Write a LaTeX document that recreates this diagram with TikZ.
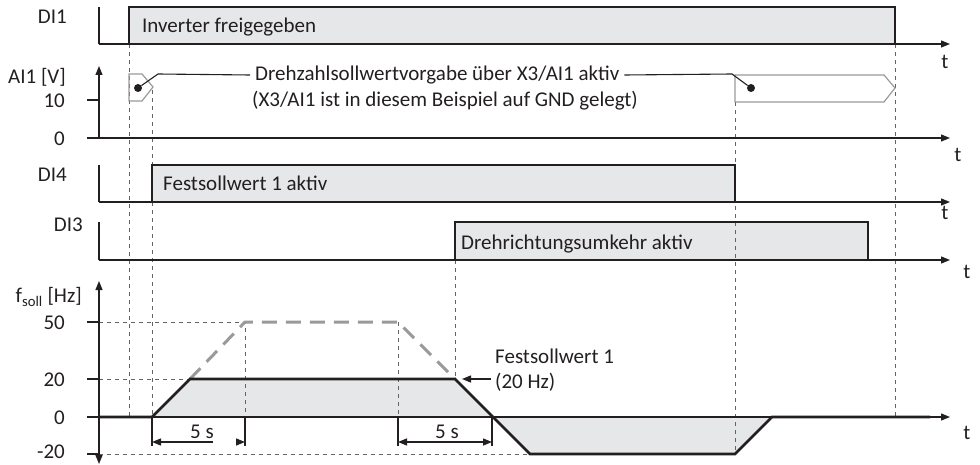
\documentclass[tikz,border=0pt]{standalone}
\usepackage{fontspec}
\setmainfont{Carlito}
\usetikzlibrary{arrows.meta,positioning}
\definecolor{ink}{HTML}{231F20}
\definecolor{boxgray}{HTML}{E6E7E8}
\definecolor{framegray}{HTML}{9A9A9A}

\begin{document}
\begin{tikzpicture}[
            x=1pt, y=-1pt,
            >={Triangle[length=9pt,width=7pt]},
            font=\fontsize{21}{25}\selectfont,
            every node/.style={text=ink},
            axis/.style={draw=ink, line width=1.2pt, ->},
            thinline/.style={draw=ink, line width=1.2pt},
            signal/.style={draw=ink, line width=2.8pt, line join=miter},
            guide/.style={draw=ink!70, line width=0.9pt, dash pattern=on 4pt off 4pt},
            ramp/.style={draw=framegray, line width=3pt, dash pattern=on 15pt off 9pt},
            frame/.style={draw=framegray, line width=1.2pt},
            leader/.style={draw=ink, line width=1.1pt},
            dot/.style={circle, fill=ink, inner sep=0pt, minimum size=8pt},
            lvl/.style={anchor=east, inner sep=0pt},
            dimline/.style={draw=ink, line width=1.4pt}
        ]
        \useasboundingbox (0,0) rectangle (980,465);

        % grey areas
        \fill[boxgray] (129,7) rectangle (895,44);
        \fill[boxgray] (152,165) rectangle (735,202);
        \fill[boxgray] (455,222) rectangle (868,260);
        \fill[boxgray] (152,417) -- (190,379) -- (455,379) -- (492,417) -- cycle;
        \fill[boxgray] (492,417) -- (530,454) -- (735,454) -- (772,417) -- cycle;

        % dashed guides
        \draw[guide] (129,44) -- (129,417);
        \draw[guide] (152,90) -- (152,417);
        \draw[guide] (455,260) -- (455,379);
        \draw[guide] (735,102) -- (735,454);
        \draw[guide] (895,44) -- (895,417);
        \draw[guide] (99,322) -- (245,322) -- (245,417);
        \draw[guide] (398,322) -- (398,417);
        \draw[guide] (99,379) -- (190,379);
        \draw[guide] (99,454) -- (530,454);

        % DI1
        \node[lvl] (lDI1) at (67,17) {DI1};
        \draw[thinline] (99,7) -- (99,44);
        \draw[axis] (99,44) -- (950,44);
        \draw[signal] (99,44) -- (129,44) -- (129,7) -- (895,7) -- (895,44) -- (930,44);
        \node[anchor=west, inner sep=0pt] (inv) at (142,27) {Inverter freigegeben};
        \node (tDI1) at (945,62) {t};

        % AI1
        \node[lvl] (lAI1) at (66,77) {AI1 [V]};
        \node[lvl] (l10) at (65,101) {10};
        \node[lvl] (l0a) at (65,139) {0};
        \draw[axis] (99,138) -- (99,66);
        \draw[thinline] (87,100) -- (99,100);
        \draw[axis] (87,138) -- (950,138);
        \draw[signal] (87,138) -- (930,138);
        \node (tAI1) at (958,155) {t};
        \draw[frame] (129,74) -- (142,74) -- (153,87) -- (142,101) -- (129,101) -- cycle;
        \draw[frame] (735,75) -- (884,75) -- (895,88) -- (884,102) -- (735,102) -- cycle;
        \node[dot] (srcL) at (138,88) {};
        \node[dot] (srcR) at (751,88) {};
        \node[anchor=west, inner xsep=5pt, inner ysep=0pt] (note) at (250,75) {Drehzahlsollwertvorgabe über X3/AI1 aktiv};
        \node[inner sep=0pt] (gnd) at (445,101) {(X3/AI1 ist in diesem Beispiel auf GND gelegt)};
        \draw[leader] (srcL) -- (158,74) -- (note.west);
        \draw[leader] (note.east) -- (732,74) -- (srcR);

        % DI4
        \node[lvl] (lDI4) at (67,175) {DI4};
        \draw[thinline] (99,165) -- (99,202);
        \draw[axis] (99,202) -- (950,202);
        \draw[signal] (99,202) -- (152,202) -- (152,165) -- (735,165) -- (735,202) -- (930,202);
        \node[anchor=west, inner sep=0pt] (fest) at (163,183) {Festsollwert 1 aktiv};
        \node (tDI4) at (945,213) {t};

        % DI3
        \node[lvl] (lDI3) at (83,225) {DI3};
        \draw[thinline] (99,222) -- (99,260);
        \draw[axis] (99,260) -- (950,260);
        \draw[signal] (99,260) -- (455,260) -- (455,222) -- (868,222) -- (868,260) -- (930,260);
        \node[anchor=west, inner sep=0pt] (umk) at (461,244) {Drehrichtungsumkehr aktiv};
        \node (tDI3) at (967,272) {t};

        % f_soll
        \node[lvl] (lf) at (82,297) {f\textsubscript{soll} [Hz]};
        \node[lvl] (l50) at (65,323) {50};
        \node[lvl] (l20) at (65,380) {20};
        \node[lvl] (l0b) at (65,418) {0};
        \node[lvl] (lm20) at (65,452) {-20};
        \draw[axis, <->] (99,464) -- (99,281);
        \foreach \y in {322,379,454}
            \draw[thinline] (87,\y) -- (99,\y);
        \draw[axis] (87,417) -- (950,417);
        \draw[ramp] (190,379) -- (245,322) -- (398,322) -- (455,379);
        \draw[signal] (99,417) -- (152,417) -- (190,379) -- (455,379) -- (530,454) -- (735,454) -- (772,417) -- (930,417);
        \node (tf) at (967,433) {t};

        % ramp times
        \foreach \x in {152,245,398,492}
            \draw[dimline] (\x,417) -- (\x,446);
        \draw[dimline, ->] (213,442) -- (152,442);
        \draw[dimline, ->] (237,442) -- (245,442);
        \draw[dimline, <->] (398,442) -- (492,442);
        \node (up) at (202,432) {5 s};
        \node (down) at (447,432) {5 s};

        % fixed setpoint
        \coordinate (lvl20) at (0,379);
        \node[anchor=west, align=left, inner sep=0pt] (fs) at (495,370) {Festsollwert 1\\(20 Hz)};
        \draw[dimline, ->] ([xshift=-4pt]fs.west |- lvl20) -- (462,379);

    \end{tikzpicture}
\end{document}
